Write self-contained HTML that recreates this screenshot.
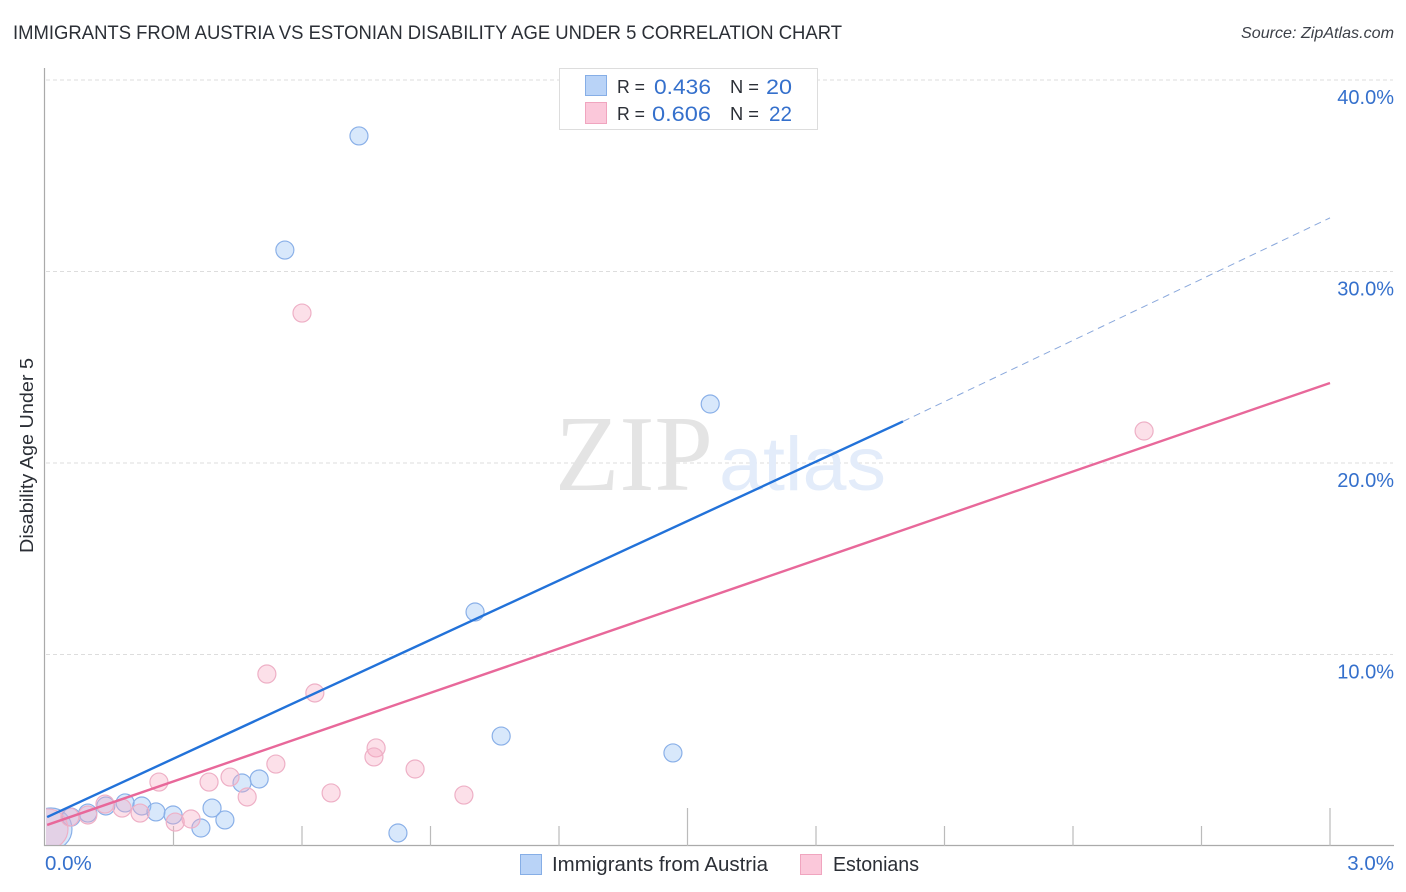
<!DOCTYPE html>
<html lang="en">
<head>
<meta charset="utf-8">
<title>Immigrants from Austria vs Estonian Disability Age Under 5 Correlation Chart</title>
<style>
html,body{margin:0;padding:0;background:#fff;width:1406px;height:892px;overflow:hidden}
svg{display:block;font-family:"Liberation Sans",sans-serif}
</style>
</head>
<body>
<svg id="chart" xmlns="http://www.w3.org/2000/svg" width="1406" height="892" viewBox="0 0 1406 892">
  <defs>
    <clipPath id="plot-clip"><rect x="46" y="60" width="1350" height="785"></rect></clipPath>
  </defs>
  <rect x="0" y="0" width="1406" height="892" fill="#ffffff"></rect>
  <text x="13" y="39" font-size="19.5" fill="#2b2f36" textLength="829" lengthAdjust="spacingAndGlyphs">IMMIGRANTS FROM AUSTRIA VS ESTONIAN DISABILITY AGE UNDER 5 CORRELATION CHART</text>
  <text x="1241" y="38" font-size="16" font-style="italic" fill="#3c4048" textLength="153" lengthAdjust="spacingAndGlyphs">Source: ZipAtlas.com</text>
  <g id="grid"></g>
  <g>
    <text x="555" y="490" font-family="'Liberation Serif',serif" font-size="108" fill="#e4e4e4" textLength="158" lengthAdjust="spacingAndGlyphs">ZIP</text>
    <text x="719" y="490" font-size="76" fill="#e3ecfa" textLength="167" lengthAdjust="spacingAndGlyphs">atlas</text>
  </g>
  <g id="axes"></g>
  <g id="points-blue" clip-path="url(#plot-clip)"></g>
  <g id="points-pink" clip-path="url(#plot-clip)"></g>
  <g id="trends"></g>
  <g id="labels"></g>
  <text transform="translate(33,455.5) rotate(-90)" font-size="18" fill="#2b2f36" text-anchor="middle" textLength="195" lengthAdjust="spacingAndGlyphs">Disability Age Under 5</text>

  <g>
    <rect x="559.5" y="68.5" width="258" height="61" fill="#ffffff" stroke="#dddddd" stroke-width="1"></rect>
    <rect x="585.5" y="75.5" width="21" height="20" fill="#b9d3f7" stroke="#86aee6"></rect>
    <rect x="585.5" y="102.5" width="21" height="21" fill="#fbc8da" stroke="#f0a5bf"></rect>
    <text x="617" y="93" font-size="18" fill="#2b2f36" textLength="28" lengthAdjust="spacingAndGlyphs">R =</text>
    <text x="654" y="94" font-size="21" fill="#3570cc" textLength="57" lengthAdjust="spacingAndGlyphs">0.436</text>
    <text x="730" y="93" font-size="18" fill="#2b2f36" textLength="29" lengthAdjust="spacingAndGlyphs">N =</text>
    <text x="766" y="94" font-size="21" fill="#3570cc" textLength="26" lengthAdjust="spacingAndGlyphs">20</text>
    <text x="617" y="120" font-size="18" fill="#2b2f36" textLength="28" lengthAdjust="spacingAndGlyphs">R =</text>
    <text x="652" y="121" font-size="21" fill="#3570cc" textLength="59" lengthAdjust="spacingAndGlyphs">0.606</text>
    <text x="730" y="120" font-size="18" fill="#2b2f36" textLength="29" lengthAdjust="spacingAndGlyphs">N =</text>
    <text x="769" y="121" font-size="21" fill="#3570cc" textLength="23" lengthAdjust="spacingAndGlyphs">22</text>
  </g>

  <g>
    <g>
      <rect x="520.5" y="854.5" width="21" height="20" fill="#b9d3f7" stroke="#86aee6"></rect>
      <text x="552" y="871" font-size="20" fill="#2b2f36" textLength="216" lengthAdjust="spacingAndGlyphs">Immigrants from Austria</text>
    </g>
    <g>
      <rect x="800.5" y="854.5" width="21" height="20" fill="#fbc8da" stroke="#f0a5bf"></rect>
      <text x="833" y="871" font-size="20" fill="#2b2f36" textLength="86" lengthAdjust="spacingAndGlyphs">Estonians</text>
    </g>
  </g>
</svg>
<script>
var yTickValues = [10, 20, 30, 40];
var yTickLabels = ["10.0%", "20.0%", "30.0%", "40.0%"];
var xEndValues = [0, 3];
var xEndLabels = ["0.0%", "3.0%"];
var xTickValues = [0.3, 0.6, 0.9, 1.2, 1.5, 1.8, 2.1, 2.4, 2.7, 3.0];
var xTickMajor = [false, false, false, false, true, false, false, false, false, true];

var austriaX = [0.014, 0.061, 0.100, 0.142, 0.187, 0.226, 0.259, 0.299, 0.364, 0.390, 0.420, 0.460, 0.500, 0.560, 0.733, 0.824, 1.004, 1.065, 1.466, 1.553];
var austriaY = [0.89, 1.51, 1.72, 2.09, 2.25, 2.09, 1.78, 1.62, 0.94, 1.98, 1.36, 3.29, 3.50, 31.12, 37.08, 0.68, 12.22, 5.74, 4.86, 23.08];
var austriaWeight = [5.44, 1, 1, 1, 1, 1, 1, 1, 1, 1, 1, 1, 1, 1, 1, 1, 1, 1, 1, 1];

var estoniaX = [0.007, 0.058, 0.100, 0.140, 0.180, 0.222, 0.266, 0.304, 0.341, 0.383, 0.432, 0.472, 0.539, 0.518, 0.600, 0.630, 0.668, 0.773, 0.768, 0.864, 0.978, 2.566];
var estoniaY = [0.89, 1.51, 1.62, 2.19, 1.98, 1.72, 3.34, 1.25, 1.41, 3.34, 3.60, 2.56, 4.28, 8.98, 27.83, 7.99, 2.77, 5.12, 4.65, 4.02, 2.66, 21.67];
var estoniaWeight = [4.94, 1, 1, 1, 1, 1, 1, 1, 1, 1, 1, 1, 1, 1, 1, 1, 1, 1, 1, 1, 1, 1];

var austriaTrendX = [0.005, 2.003];
var austriaTrendY = [1.51, 22.17];
var austriaExtendX = [2.003, 3.0];
var austriaExtendY = [22.17, 32.8];
var estoniaTrendX = [0.005, 3.0];
var estoniaTrendY = [1.10, 24.18];

var NS = "http://www.w3.org/2000/svg";
function xPos(v) { return 45 + v * (1330 - 45) / 3; }
function yPos(v) { return 846 - v * (846 - 80) / 40; }
function rPos(w) { return 9 * Math.sqrt(w); }
function make(tag, parentId) {
  var el = document.createElementNS(NS, tag);
  document.getElementById(parentId).appendChild(el);
  return el;
}
function setAll(el, map) {
  for (var k in map) el.setAttribute(k, map[k]);
}

yTickValues.forEach(function (v, i) {
  var g = make("line", "grid");
  setAll(g, { x1: 46, x2: 1393, y1: yPos(v), y2: yPos(v), stroke: "#dddddd", "stroke-width": 1, "stroke-dasharray": "4 3" });
  
  
  var t = make("text", "labels");
  setAll(t, { x: 1394, y: yPos(v) + 24, "font-size": 20, fill: "#3570cc", "text-anchor": "end" });
  t.textContent = yTickLabels[i];
  
  
});

var yAxis = make("line", "axes");
setAll(yAxis, { x1: 44.5, x2: 44.5, y1: 68, y2: 846, stroke: "#aaaaaa", "stroke-width": 1.2 });



var xAxis = make("line", "axes");
setAll(xAxis, { x1: 44, x2: 1394, y1: 845.5, y2: 845.5, stroke: "#aaaaaa", "stroke-width": 1.2 });



xTickValues.forEach(function (v, i) {
  var tick = make("line", "axes");
  setAll(tick, { x1: xPos(v), x2: xPos(v), y1: xTickMajor[i] ? 808 : 826, y2: 846, stroke: "#bbbbbb", "stroke-width": 1.2 });
  
  
});

xEndValues.forEach(function (v, i) {
  var t = make("text", "labels");
  setAll(t, { x: i === 0 ? 45 : 1394, y: 870, "font-size": 20.5, fill: "#3570cc", "text-anchor": i === 0 ? "start" : "end" });
  t.textContent = xEndLabels[i];
  
  
});

austriaX.forEach(function (v, i) {
  var c = make("circle", "points-blue");
  setAll(c, { cx: xPos(v), cy: yPos(austriaY[i]), r: rPos(austriaWeight[i]), fill: "#93bef5", "fill-opacity": 0.36, stroke: "#8ab0e8", "stroke-width": 1.2 });
  
  
});

estoniaX.forEach(function (v, i) {
  var c = make("circle", "points-pink");
  setAll(c, { cx: xPos(v), cy: yPos(estoniaY[i]), r: rPos(estoniaWeight[i]), fill: "#f6a8c2", "fill-opacity": 0.36, stroke: "#eeb0c6", "stroke-width": 1.2 });
  
  
});

var extend = make("line", "trends");
setAll(extend, { x1: xPos(austriaExtendX[0]), y1: yPos(austriaExtendY[0]), x2: xPos(austriaExtendX[1]), y2: yPos(austriaExtendY[1]), stroke: "#8aa8dc", "stroke-width": 1, "stroke-dasharray": "7 5" });



var trendA = make("line", "trends");
setAll(trendA, { x1: xPos(austriaTrendX[0]), y1: yPos(austriaTrendY[0]), x2: xPos(austriaTrendX[1]), y2: yPos(austriaTrendY[1]), stroke: "#2272d9", "stroke-width": 2.4 });



var trendE = make("line", "trends");
setAll(trendE, { x1: xPos(estoniaTrendX[0]), y1: yPos(estoniaTrendY[0]), x2: xPos(estoniaTrendX[1]), y2: yPos(estoniaTrendY[1]), stroke: "#e8689a", "stroke-width": 2.4 });


</script>
</body>
</html>
